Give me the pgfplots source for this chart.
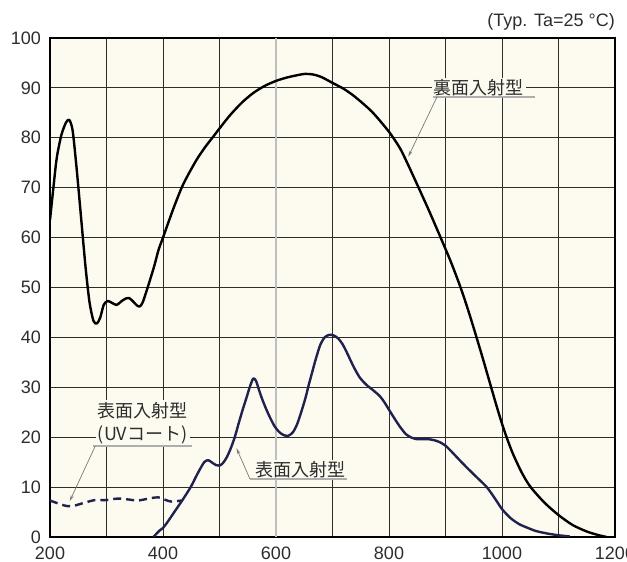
\documentclass[border=0pt]{standalone}
\usepackage{fontspec}
\setmainfont{Liberation Sans}
\newfontfamily\jp{Noto Sans CJK JP}
\usepackage{pgfplots}
\pgfplotsset{compat=1.18}
\usetikzlibrary{arrows.meta}
\definecolor{cream}{RGB}{253,251,240}
\definecolor{navy}{RGB}{32,34,78}
\definecolor{gridc}{RGB}{45,45,45}
\definecolor{txt}{RGB}{45,45,45}
\definecolor{lead}{RGB}{120,120,120}

\begin{document}
\begin{tikzpicture}[x=1pt,y=1pt]
\useasboundingbox (0,0) rectangle (627,562);
\begin{axis}[
  at={(50pt,25pt)}, anchor=south west,
  scale only axis, width=565pt, height=499pt,
  xmin=200, xmax=1200, ymin=0, ymax=100,
  xtick={200,300,...,1200},
  xticklabels={200,,400,,600,,800,,1000,,1200},
  ytick={0,10,...,100},
  major tick length=0pt,
  grid=major,
  major grid style={gridc, line width=1pt},
  axis background/.style={fill=cream},
  axis line style={line width=2.5pt, black},
  ticklabel style={font=\fontsize{18}{20}\selectfont, text=txt},
  /pgf/number format/assume math mode=true,
  /pgf/number format/1000 sep={},
  xticklabel style={anchor=north, inner sep=0pt, yshift=-10pt},
  yticklabel style={anchor=east, inner sep=0pt, xshift=-9pt},
]
% lighter grid line at 600
\draw[gray!50, line width=1.4pt] (axis cs:600,0) -- (axis cs:600,100);

% back-illuminated
\addplot[black, line width=2.4pt, smooth, tension=0.45, line join=round] coordinates {
(200,63.5)(206,70)(212,76)(220,80.5)(228,83)(234,83.6)(240,81.5)(247,74)
(255,64)(263,54)(270,47)(277,43.3)(283,42.8)(289,44)(295,46.5)(302,47.3)
(310,46.9)(318,46.5)(326,47.2)(334,47.8)(340,47.9)(347,47.2)(354,46.4)
(359,46.2)(364,47)(370,49)(377,51.5)(385,54.5)(392,57.5)(400,60)(410,63.2)
(420,66.3)(433,70)(445,72.7)(460,75.7)(475,78.2)(488,80.1)(505,82.6)(520,84.7)
(540,87.1)(560,89)(580,90.4)(600,91.4)(620,92.1)(640,92.6)(651,92.8)
(665,92.7)(680,92.2)(700,91)(720,89.8)(740,88.2)(770,85.2)(800,81.2)
(820,77.8)(835,74.3)(850,70.6)(870,65.6)(891,60.1)(910,55)(927,49.9)
(940,45.5)(952,41.1)(966,35.8)(979,30.7)(990,26.4)(1000,22.7)(1010,19.4)
(1020,16.5)(1035,12.9)(1050,10.1)(1075,6.9)(1100,4.4)(1125,2.4)(1150,1.1)
(1170,0.4)(1185,0)
};

% front-illuminated
\addplot[navy, line width=2.4pt, smooth, tension=0.45, line join=round] coordinates {
(383,0)(388,0.6)(394,1.3)(400,1.8)(408,3)(420,5)(435,7.5)(449,10)(458,12)
(465,13.5)(473,15)(480,15.4)(487,14.9)(494,14.4)(500,14.3)(506,14.8)(513,16)
(520,17.8)(527,20)(534,22.8)(541,25.5)(548,28)(554,30.2)(560,31.8)(565,31.2)
(569,29.8)(575,27.8)(582,25.8)(590,23.8)(598,22.1)(606,21)(614,20.4)(622,20.3)
(630,21)(637,22.5)(644,24.8)(652,27.8)(658,30.5)(664,33)(670,35.5)(678,38.4)
(686,40)(694,40.5)(702,40.4)(710,39.8)(718,38.6)(727,36.6)(737,34.2)(748,32)
(760,30.5)(772,29.4)(784,28.2)(793,26.8)(800,25.5)(810,23.7)(820,22)(830,20.6)
(840,19.9)(850,19.6)(860,19.6)(870,19.6)(880,19.4)(890,19)(900,18.3)(910,17.2)
(920,16)(937,14)(955,12)(973,10)(987,7.8)(1000,5.6)(1015,3.8)(1030,2.6)
(1044,1.9)(1060,1.2)(1080,0.7)(1100,0.35)(1120,0.1)
};

% front-illuminated, UV coat
\addplot[navy, line width=2.4pt, smooth, tension=0.45, dash pattern=on 8pt off 5pt] coordinates {
(200,7.3)(210,6.9)(220,6.5)(230,6.2)(240,6.2)(250,6.5)(265,7)(280,7.4)
(300,7.4)(320,7.7)(340,7.5)(355,7.3)(370,7.6)(385,7.9)(395,7.9)(405,7.4)
(415,7.1)(432,7.3)
};

% annotations
\node[fill=cream, inner sep=2pt, text=txt, font=\jp\fontsize{18}{20}\selectfont]
  at (axis cs:959,90) {裏面入射型};
\draw[lead!60, line width=1.5pt] (axis cs:878,88.2) -- (axis cs:1058,88.2);
\draw[lead, line width=0.7pt, -{Stealth[length=6pt,width=3pt]}]
  (axis cs:885,88.2) -- (axis cs:834,76.2);

\node[fill=cream, inner sep=2pt, text=txt, font=\jp\fontsize{18}{20}\selectfont]
  at (axis cs:644,13.4) {表面入射型};
\draw[lead!60, line width=1.5pt] (axis cs:554,11.6) -- (axis cs:726,11.6);
\draw[lead, line width=0.7pt, -{Stealth[length=6pt,width=3pt]}]
  (axis cs:554,11.6) -- (axis cs:530,17.8);

\node[fill=cream, inner sep=2pt, text=txt, font=\jp\fontsize{18}{20}\selectfont, align=center]
  at (axis cs:364,22.8) {表面入射型\\[3pt](UVコート)};
\draw[lead!60, line width=1.5pt] (axis cs:276,18.2) -- (axis cs:451,18.2);
\draw[lead, line width=0.7pt, -{Stealth[length=6pt,width=3pt]}]
  (axis cs:280,18.2) -- (axis cs:235,7.2);
\end{axis}
\node[anchor=east, text=txt, font=\fontsize{18}{20}\selectfont, inner sep=0pt]
  at (615,540) {(Typ. Ta=25 °C)};
\end{tikzpicture}
\end{document}
